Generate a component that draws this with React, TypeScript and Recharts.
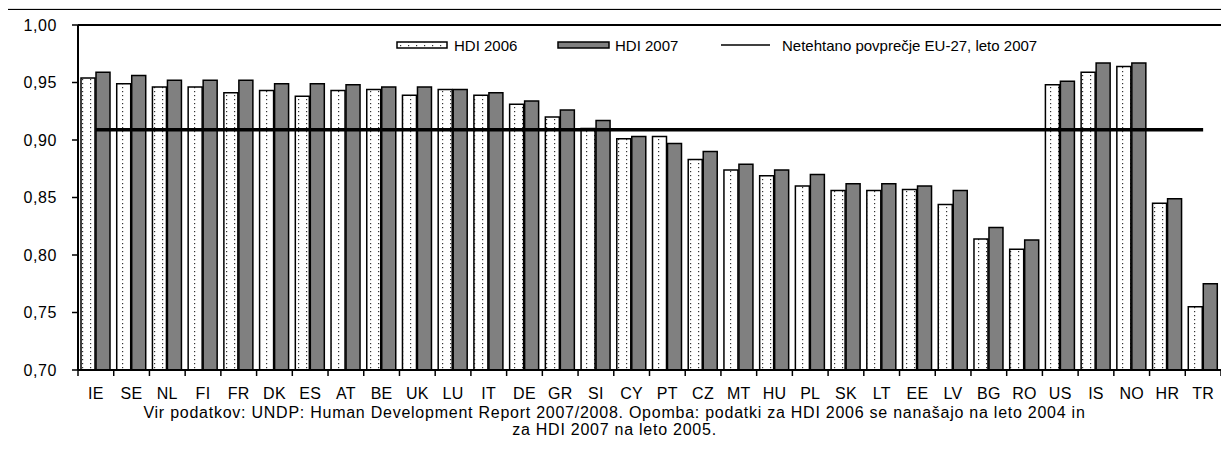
import React from 'react';
import { ComposedChart, Bar, Line, XAxis, YAxis, CartesianGrid, ReferenceLine } from 'recharts';

const countries = ['IE', 'SE', 'NL', 'FI', 'FR', 'DK', 'ES', 'AT', 'BE', 'UK', 'LU', 'IT', 'DE', 'GR', 'SI', 'CY',
  'PT', 'CZ', 'MT', 'HU', 'PL', 'SK', 'LT', 'EE', 'LV', 'BG', 'RO', 'US', 'IS', 'NO', 'HR', 'TR'];
const hdi2006 = [0.954, 0.949, 0.946, 0.946, 0.941, 0.943, 0.938, 0.943, 0.944, 0.939, 0.944, 0.939, 0.931, 0.920, 0.910, 0.901,
  0.903, 0.883, 0.874, 0.869, 0.860, 0.856, 0.856, 0.857, 0.844, 0.814, 0.805, 0.948, 0.959, 0.964, 0.845, 0.755];
const hdi2007 = [0.959, 0.956, 0.952, 0.952, 0.952, 0.949, 0.949, 0.948, 0.946, 0.946, 0.944, 0.941, 0.934, 0.926, 0.917, 0.903,
  0.897, 0.890, 0.879, 0.874, 0.870, 0.862, 0.862, 0.860, 0.856, 0.824, 0.813, 0.951, 0.967, 0.967, 0.849, 0.775];
const euAvg2007 = 0.909;
const yTicks = [0.7, 0.75, 0.8, 0.85, 0.9, 0.95, 1.0];

const data = countries.map((c, i) => ({ country: c, hdi2006: hdi2006[i], hdi2007: hdi2007[i], avg: euAvg2007 }));

const FONT = "'Liberation Sans', Arial, sans-serif";
const PLOT_W = 1143;
const half = PLOT_W / countries.length / 2;

const CountryTick = (props: any) => {
  const { x, y, payload, index } = props;
  const base = y - 2;
  return (
    <g>
      <line x1={x - half} x2={x - half} y1={base} y2={base + 6} stroke="#000" strokeWidth={1.5} />
      {index === countries.length - 1 && (
        <line x1={x + half} x2={x + half} y1={base} y2={base + 6} stroke="#000" strokeWidth={1.5} />
      )}
      <text x={x} y={base + 29} textAnchor="middle" fontSize={16} fontFamily={FONT} fill="#000" letterSpacing={0.3}>
        {payload.value}
      </text>
    </g>
  );
};

const LegendBar = () => (
  <svg width={700} height={20} style={{ position: 'absolute', left: 390, top: 36 }}>
    <rect x={7} y={6} width={50} height={6} fill="url(#dots)" stroke="#000" strokeWidth={1.5} />
    <text x={64} y={15} fontSize={15} fontFamily={FONT}>HDI 2006</text>
    <rect x={168} y={6} width={51} height={6} fill="#808080" stroke="#000" strokeWidth={1.5} />
    <text x={225} y={15} fontSize={15} fontFamily={FONT}>HDI 2007</text>
    <line x1={331} x2={380} y1={9} y2={9} stroke="#000" strokeWidth={1.5} />
    <text x={392} y={15} fontSize={15} fontFamily={FONT}>Netehtano povprečje EU-27, leto 2007</text>
  </svg>
);

export default function App() {
  return (
    <div style={{ margin: -8, position: 'relative', width: 1229, height: 459, background: '#fff', fontFamily: FONT }}>
      <div style={{ height: 9, background: '#e0e0e0', borderBottom: '1px solid #000' }} />
      <ComposedChart
        width={1229}
        height={410}
        data={data}
        margin={{ top: 15, right: 8, left: 18, bottom: 0 }}
        barSize={14}
        barGap={1}
        style={{ position: 'absolute', top: 10, left: 0 }}
      >
        <defs>
          <pattern id="dots" width={8} height={4} patternUnits="userSpaceOnUse">
            <rect width={8} height={4} fill="#fff" />
            <rect x={2} y={1} width={1.2} height={1.2} fill="#333" />
          </pattern>
        </defs>
        <CartesianGrid horizontal vertical={false} stroke="#999" strokeWidth={1.5} />
        <XAxis dataKey="country" axisLine={{ stroke: '#000', strokeWidth: 2 }} tickLine={false} tickSize={0}
          tick={<CountryTick />} interval={0} height={50} />
        <YAxis yAxisId="l" domain={[0.7, 1]} ticks={yTicks} axisLine={{ stroke: '#000', strokeWidth: 2 }}
          tickLine={{ stroke: '#000', strokeWidth: 1.5 }} tickSize={6} tickMargin={15} width={60}
          tickFormatter={(v: number) => v.toFixed(2).replace('.', ',')}
          tick={{ fontSize: 16, fontFamily: FONT, fill: '#000', letterSpacing: 0.6 }} />
        <YAxis yAxisId="r" orientation="right" domain={[0.7, 1]} ticks={yTicks} axisLine={{ stroke: '#000', strokeWidth: 2 }}
          tick={false} tickLine={false} width={0} />
        <ReferenceLine yAxisId="l" y={1} stroke="#000" strokeWidth={2} />
        <Bar yAxisId="l" dataKey="hdi2006" fill="url(#dots)" stroke="#000" strokeWidth={1.5} isAnimationActive={false} />
        <Bar yAxisId="l" dataKey="hdi2007" fill="#808080" stroke="#000" strokeWidth={1.5} isAnimationActive={false} />
        <Line yAxisId="l" dataKey="avg" type="linear" stroke="#000" strokeWidth={3.5} dot={false} isAnimationActive={false} />
      </ComposedChart>
      <LegendBar />
      <div style={{ position: 'absolute', top: 404, left: 0, width: 1229, textAlign: 'center', fontSize: 16, lineHeight: '17px', letterSpacing: 0.75, color: '#000' }}>
        Vir podatkov: UNDP: Human Development Report 2007/2008. Opomba: podatki za HDI 2006 se nanašajo na leto 2004 in
        <br />
        za HDI 2007 na leto 2005.
      </div>
    </div>
  );
}
